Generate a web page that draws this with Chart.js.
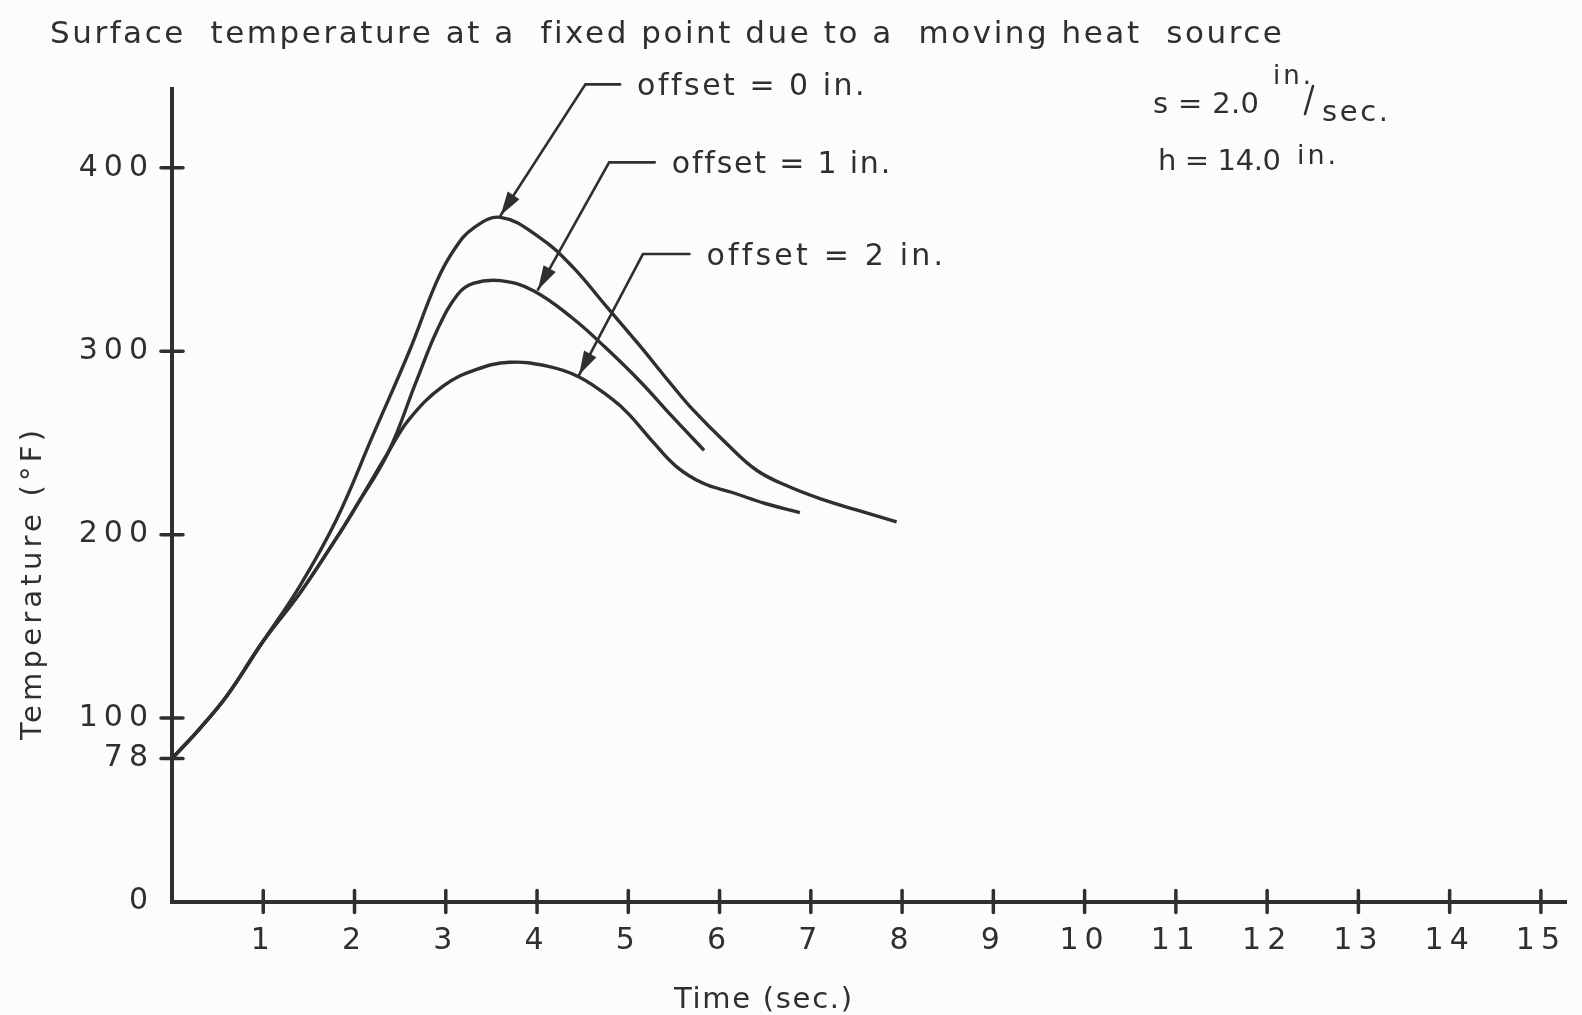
<!DOCTYPE html>
<html>
<head>
<meta charset="utf-8">
<script src="https://cdn.jsdelivr.net/npm/chart.js@4.4.1/dist/chart.umd.min.js"></script>
<style>
  html, body { margin: 0; padding: 0; background: #fcfcfa; }
  #wrap { width: 1582px; height: 1015px; }
  canvas { display: block; }
</style>
</head>
<body>
<div id="wrap"><canvas id="chart" width="1582" height="1015"></canvas></div>
<script>
// ---------------- data ----------------
const titleText = 'Surface  temperature at a  fixed point due to a  moving heat  source';
const xAxisTitle = 'Time (sec.)';
const yAxisTitle = 'Temperature (°F)';
const xTickValues = [1, 2, 3, 4, 5, 6, 7, 8, 9, 10, 11, 12, 13, 14, 15];
const yTickValues = [0, 78, 100, 200, 300, 400];
const seriesLabels = ['offset = 0 in.', 'offset = 1 in.', 'offset = 2 in.'];

const time0 = [0, 0.3, 0.6, 1.0, 1.4, 1.8, 2.2, 2.6, 2.9, 3.1, 3.3, 3.6, 4.03, 4.39, 4.75, 5.11, 5.47, 5.71, 6.07, 6.41, 6.77, 7.14, 7.5, 7.94];
const temp0 = [78, 94, 112, 142, 172, 208, 254, 300, 338, 356, 367, 373, 362, 346, 325, 304, 282, 268, 250, 235, 226, 219, 213.5, 207];

const time1 = [0, 0.3, 0.6, 1.0, 1.4, 1.8, 2.0, 2.37, 2.68, 2.91, 3.13, 3.3, 3.6, 3.96, 4.39, 4.75, 5.14, 5.47, 5.83];
const temp1 = [78, 94, 112, 142, 168, 198, 214, 245, 284, 312, 331, 337, 338.5, 333, 318, 302, 283, 265, 246];

const time2 = [0, 0.3, 0.6, 1.0, 1.4, 1.8, 2.0, 2.37, 2.6, 2.97, 3.33, 3.7, 4.1, 4.46, 4.82, 5.0, 5.28, 5.53, 5.82, 6.14, 6.5, 6.88];
const temp2 = [78, 94, 112, 142, 168, 198, 214, 245, 263, 281, 290, 294, 292, 286, 274, 266, 250, 237, 228, 223, 217, 212];

// annotation anchors (data coordinates): arrow tip, bend of the leader, end of its horizontal stroke
const leaderTipX = [3.6, 4.01, 4.46];
const leaderTipY = [374, 333.6, 287];
const leaderBendX = [4.53, 4.79, 5.16];
const leaderBendY = [445.5, 403, 353];
const leaderEndX = [4.91, 5.29, 5.67];

const paramText1 = 's = 2.0';
const paramUnitTop = 'in.';
const paramUnitBottom = 'sec.';
const paramText2 = 'h = 14.0';
const paramUnit2 = 'in.';

// ---------------- styling ----------------
const INK = '#2f2f2f';
const FONT = '"DejaVu Sans", "Liberation Sans", sans-serif';

function pts(xs, ys) { return xs.map((x, i) => ({ x: x, y: ys[i] })); }

function fitText(ctx, text, x, y, width, size, opts = {}) {
  ctx.save();
  ctx.font = `${size}px ${FONT}`;
  ctx.fillStyle = INK;
  ctx.letterSpacing = '0px';
  const w = ctx.measureText(text).width;
  const n = Math.max(1, text.length - 1);
  const ls = (width - w) / n;
  ctx.letterSpacing = ls.toFixed(2) + 'px';
  ctx.textAlign = 'left';
  ctx.textBaseline = opts.baseline || 'alphabetic';
  if (opts.rotate) {
    ctx.translate(x, y);
    ctx.rotate(opts.rotate);
    ctx.fillText(text, -width / 2, 0);
  } else {
    ctx.fillText(text, x, y);
  }
  ctx.restore();
}

const decorPlugin = {
  id: 'decor',
  beforeDraw(chart) {
    const ctx = chart.ctx;
    ctx.save();
    ctx.fillStyle = '#fcfcfa';
    ctx.fillRect(0, 0, chart.width, chart.height);
    ctx.restore();
    ctx.letterSpacing = '6px';
  },
  afterDraw(chart) {
    const ctx = chart.ctx;
    const xs = chart.scales.x, ys = chart.scales.y;
    const x0 = xs.getPixelForValue(0), y0 = ys.getPixelForValue(0);
    ctx.save();
    ctx.letterSpacing = '0px';
    ctx.strokeStyle = INK;
    ctx.lineCap = 'round';
    // crossing tick marks
    ctx.lineWidth = 3.5;
    xTickValues.forEach(v => {
      const px = xs.getPixelForValue(v);
      ctx.beginPath(); ctx.moveTo(px, y0 - 11); ctx.lineTo(px, y0 + 11); ctx.stroke();
    });
    yTickValues.forEach(v => {
      if (v === 0) return;
      const py = ys.getPixelForValue(v);
      ctx.beginPath(); ctx.moveTo(x0 - 11, py); ctx.lineTo(x0 + 11, py); ctx.stroke();
    });
    // leaders with arrows
    ctx.lineWidth = 2.6;
    ctx.fillStyle = INK;
    const labelWidths = [227, 218, 236];
    for (let i = 0; i < seriesLabels.length; i++) {
      const tx = xs.getPixelForValue(leaderTipX[i]), ty = ys.getPixelForValue(leaderTipY[i]);
      const bx = xs.getPixelForValue(leaderBendX[i]), by = ys.getPixelForValue(leaderBendY[i]);
      const ex = xs.getPixelForValue(leaderEndX[i]);
      ctx.beginPath();
      ctx.moveTo(ex, by); ctx.lineTo(bx, by); ctx.lineTo(tx, ty);
      ctx.stroke();
      const ang = Math.atan2(ty - by, tx - bx);
      const L = 24, W = 7;
      const backX = tx - L * Math.cos(ang), backY = ty - L * Math.sin(ang);
      ctx.beginPath();
      ctx.moveTo(tx, ty);
      ctx.lineTo(backX + W * Math.sin(ang), backY - W * Math.cos(ang));
      ctx.lineTo(backX - W * Math.sin(ang), backY + W * Math.cos(ang));
      ctx.closePath();
      ctx.fill();
      fitText(ctx, seriesLabels[i], ex + 17, by + 11, labelWidths[i], 30);
    }
    ctx.restore();

    // title
    fitText(ctx, titleText, 50, 43, 1232, 31);
    // axis titles
    fitText(ctx, xAxisTitle, 674, 1008, 178, 29);
    fitText(ctx, yAxisTitle, 33, 585, 310, 29, { rotate: -Math.PI / 2, baseline: 'middle' });
    // parameters
    fitText(ctx, paramText1, 1153, 113, 106, 29);
    fitText(ctx, paramUnitTop, 1273, 84, 38, 26);
    ctx.save();
    ctx.strokeStyle = INK; ctx.lineWidth = 2.6; ctx.lineCap = 'round';
    ctx.beginPath(); ctx.moveTo(1313, 86); ctx.lineTo(1305, 114); ctx.stroke();
    ctx.restore();
    fitText(ctx, paramUnitBottom, 1322, 121, 66, 29);
    fitText(ctx, paramText2, 1158, 170, 123, 29);
    fitText(ctx, paramUnit2, 1297, 164, 39, 27);
  }
};

const seriesData = [pts(time0, temp0), pts(time1, temp1), pts(time2, temp2)];

new Chart(document.getElementById('chart'), {
  type: 'line',
  data: {
    datasets: seriesData.map((d, i) => ({
      label: seriesLabels[i],
      data: d,
      borderColor: INK,
      borderWidth: 3.4,
      pointRadius: 0,
      fill: false,
      tension: 0.4
    }))
  },
  options: {
    responsive: false,
    animation: false,
    devicePixelRatio: 1,
    layout: { padding: { top: 89, left: 0, right: 0, bottom: 0 } },
    plugins: { legend: { display: false }, tooltip: { enabled: false }, title: { display: false } },
    scales: {
      x: {
        type: 'linear',
        min: 0,
        max: 15.28,
        afterFit: s => { s.height = 113.5; },
        afterBuildTicks: s => { s.ticks = xTickValues.map(v => ({ value: v })); },
        border: { display: true, width: 4, color: INK },
        grid: { display: false, drawTicks: false },
        ticks: { color: INK, font: { family: FONT, size: 30 }, padding: 22, maxRotation: 0, autoSkip: false,
                 callback: v => String(v) }
      },
      y: {
        type: 'linear',
        min: 0,
        max: 443,
        afterFit: s => { s.width = 172; },
        afterBuildTicks: s => { s.ticks = yTickValues.map(v => ({ value: v })); },
        border: { display: true, width: 4, color: INK },
        grid: { display: false, drawTicks: false },
        ticks: { color: INK, font: { family: FONT, size: 30 }, padding: 18, autoSkip: false,
                 callback: v => String(v) }
      }
    }
  },
  plugins: [decorPlugin]
});
</script>
</body>
</html>
